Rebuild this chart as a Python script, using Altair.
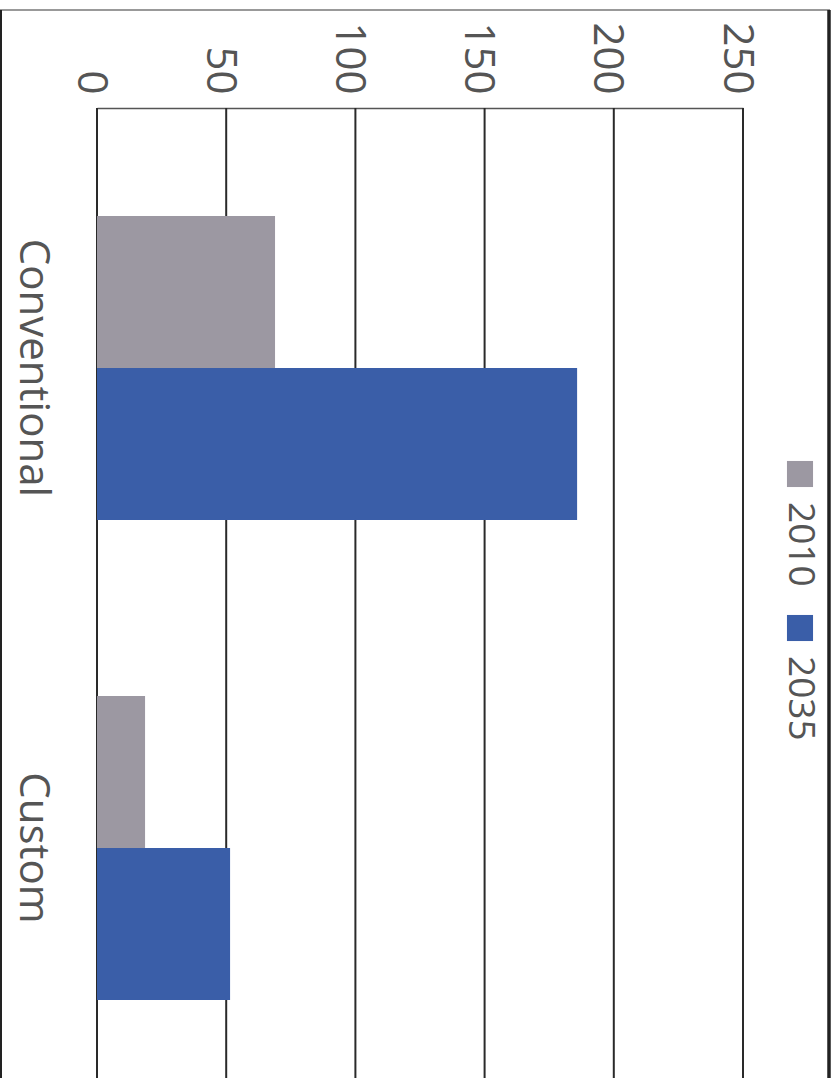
import altair as alt
import pandas as pd

# Chart values
categories = ["Conventional", "Custom"]
years = ["2010", "2035"]
values_2010 = [68.9, 18.6]
values_2035 = [185.8, 51.5]
x_ticks = [0, 50, 100, 150, 200, 250]
year_colors = ["#9c98a2", "#3a5ea8"]

FONT = "Open Sans"
TEXT_COLOR = "#555555"
LINE_COLOR = "#2a2a2a"
PLOT_H = 970

rows = []
for i, cat in enumerate(categories):
    rows.append({"category": cat, "year": years[0], "value": values_2010[i]})
    rows.append({"category": cat, "year": years[1], "value": values_2035[i]})
bars_df = pd.DataFrame(rows)
legend_df = pd.DataFrame({"year": years})
ticks_df = pd.DataFrame({"value": x_ticks})

color_scale = alt.Scale(domain=years, range=year_colors)
x_scale = alt.Scale(domain=[0, 250], nice=False)

x_axis = alt.Axis(
    orient="top",
    values=x_ticks,
    title=None,
    grid=False,
    domain=True,
    domainColor="#555555",
    domainWidth=1.5,
    ticks=False,
    labelAngle=90,
    labelAlign="right",
    labelBaseline="middle",
    labelFont=FONT,
    labelFontSize=42,
    labelColor=TEXT_COLOR,
    labelPadding=14,
    labelOffset=-7,
)

# Vertical gridlines spanning the full plot height
grid = alt.Chart(ticks_df).mark_rule(color=LINE_COLOR, strokeWidth=2).encode(
    x=alt.X("value:Q", scale=x_scale, axis=x_axis),
    y=alt.value(0),
    y2=alt.value(PLOT_H),
)

bars = alt.Chart(bars_df).mark_bar(opacity=1).encode(
    x=alt.X("value:Q", scale=x_scale, axis=x_axis),
    y=alt.Y(
        "category:N",
        sort=categories,
        scale=alt.Scale(range=[108, 892], paddingInner=0.3667, paddingOuter=0),
        axis=alt.Axis(
            title=None,
            grid=False,
            domain=False,
            ticks=False,
            labelAngle=90,
            labelAlign="center",
            labelBaseline="top",
            labelFont=FONT,
            labelFontSize=42,
            labelColor=TEXT_COLOR,
            labelPadding=45,
            labelLimit=600,
        ),
    ),
    yOffset=alt.YOffset("year:N", sort=years, scale=alt.Scale(paddingInner=0, paddingOuter=0)),
    color=alt.Color("year:N", scale=color_scale, legend=None),
)

legend_y = alt.Y(
    "year:N",
    sort=years,
    scale=alt.Scale(type="point", range=[366, 520], padding=0),
    axis=None,
)

legend_keys = alt.Chart(legend_df).mark_point(
    shape="square", filled=True, size=680, opacity=1
).encode(
    x=alt.value(703),
    y=legend_y,
    color=alt.Color("year:N", scale=color_scale, legend=None),
)

legend_text = alt.Chart(legend_df).mark_text(
    angle=90, align="left", baseline="middle", dx=28,
    font=FONT, fontSize=37, color=TEXT_COLOR,
).encode(
    x=alt.value(703),
    y=legend_y,
    text="year:N",
)

# Outer frame around the whole figure
frame_top = alt.Chart(legend_df).mark_rule(color="#999999", strokeWidth=2).encode(
    x=alt.value(-97), x2=alt.value(733), y=alt.value(-98)
)
frame_left = alt.Chart(legend_df).mark_rule(color="#222222", strokeWidth=2).encode(
    x=alt.value(-96), y=alt.value(-98), y2=alt.value(975)
)
frame_right = alt.Chart(legend_df).mark_rule(color="#222222", strokeWidth=3).encode(
    x=alt.value(732), y=alt.value(-98), y2=alt.value(975)
)

chart = (
    alt.layer(frame_top, frame_left, frame_right, grid, bars, legend_keys, legend_text)
    .resolve_scale(y="independent")
    .properties(
        width=646,
        height=PLOT_H,
        autosize=alt.AutoSizeParams(type="none"),
        padding={"left": 97, "top": 108, "right": 95, "bottom": 0},
        background="white",
    )
    .configure_view(stroke=None)
)

chart.save("out.html", embed_options={"renderer": "svg", "actions": False})
